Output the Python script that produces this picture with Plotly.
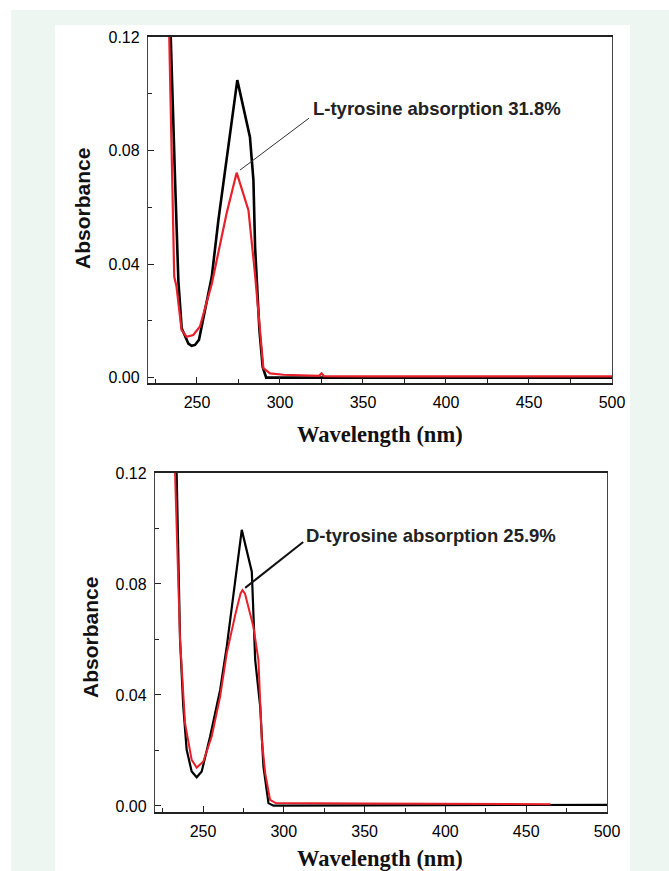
import plotly.graph_objects as go

# ---- data: top panel (L-tyrosine) ----
l_black_wl = [230, 234.2, 236.8, 238.8, 240.8, 244.8, 246.8, 248.8, 251.2, 258.9, 262.9, 274.3, 281.9, 284.0, 285.0, 287.6, 289.6, 291.7, 300, 350, 400, 450, 500]
l_black_ab = [0.16, 0.12, 0.0696, 0.034, 0.0174, 0.012, 0.0112, 0.0115, 0.0133, 0.0355, 0.0555, 0.1048, 0.0848, 0.0696, 0.046, 0.0168, 0.0037, 0.0, 0.0, 0.0, 0.0, 0.0, 0.0]
l_red_wl = [229, 233.3, 235.1, 236.3, 237.7, 240.7, 243.7, 247.8, 251.8, 258.9, 267.9, 273.9, 281.0, 284.9, 290.0, 294.0, 302, 320, 323.5, 325.1, 326.5, 350, 400, 450, 500]
l_red_ab = [0.16, 0.12, 0.0695, 0.0355, 0.032, 0.0168, 0.0144, 0.015, 0.018, 0.033, 0.058, 0.0722, 0.059, 0.0368, 0.0033, 0.0015, 0.001, 0.0006, 0.0006, 0.0015, 0.0005, 0.0004, 0.0004, 0.0004, 0.0004]

# ---- data: bottom panel (D-tyrosine) ----
d_black_wl = [229, 233.7, 235.8, 237.8, 239.9, 243.0, 246.1, 249.2, 254.4, 260.6, 264.7, 274.0, 280.2, 282.3, 285.4, 287.4, 290.5, 293.6, 350, 400, 450, 500]
d_black_ab = [0.16, 0.12, 0.0598, 0.0358, 0.0202, 0.0124, 0.0103, 0.0124, 0.025, 0.0418, 0.0574, 0.0995, 0.0844, 0.0526, 0.0358, 0.0142, 0.001, 0.0001, 0.0002, 0.0003, 0.0004, 0.0004]
d_red_wl = [228, 232.7, 235.8, 238.9, 243.0, 246.1, 250.2, 255.4, 260.6, 264.7, 270.0, 273.2, 274.4, 276.0, 281.2, 284.3, 286.4, 288.5, 291.5, 295.0, 350, 400, 430, 465]
d_red_ab = [0.16, 0.12, 0.0598, 0.0298, 0.0166, 0.0138, 0.016, 0.025, 0.0394, 0.055, 0.069, 0.0765, 0.0778, 0.0765, 0.0646, 0.0526, 0.0238, 0.0118, 0.0022, 0.001, 0.0009, 0.0008, 0.0007, 0.0006]

x_ticks = [250, 300, 350, 400, 450, 500]
y_ticks = [0.00, 0.04, 0.08, 0.12]
x_title = "Wavelength (nm)"
y_title = "Absorbance"
note_l = "L-tyrosine absorption 31.8%"
note_d = "D-tyrosine absorption 25.9%"

W, H = 669, 871
BLACK = "#000000"
RED = "#e8202a"

def px(x):
    return x / W

def py(y):
    return 1 - y / H

fig = go.Figure()
fig.add_trace(go.Scatter(x=l_black_wl, y=l_black_ab, mode="lines", line=dict(color=BLACK, width=2.6), xaxis="x", yaxis="y", showlegend=False))
fig.add_trace(go.Scatter(x=l_red_wl, y=l_red_ab, mode="lines", line=dict(color=RED, width=2.2), xaxis="x", yaxis="y", showlegend=False))
fig.add_trace(go.Scatter(x=d_black_wl, y=d_black_ab, mode="lines", line=dict(color=BLACK, width=2.2), xaxis="x2", yaxis="y2", showlegend=False))
fig.add_trace(go.Scatter(x=d_red_wl, y=d_red_ab, mode="lines", line=dict(color=RED, width=2.0), xaxis="x2", yaxis="y2", showlegend=False))

tickfont = dict(family="Liberation Sans, Arial", size=16, color="#000")

def xax(domain, anchor, rng):
    return dict(domain=domain, anchor=anchor, range=rng, tickvals=x_ticks, automargin=False,
                ticks="inside", ticklen=6, tickwidth=1.2, tickcolor="#222",
                minor=dict(ticks="inside", ticklen=4, tick0=225, dtick=50, tickcolor="#222"),
                showline=True, linewidth=2, linecolor="#222", mirror=True,
                showgrid=False, zeroline=False, tickfont=tickfont, ticklabelstandoff=4)

def yax(domain, anchor, rng):
    return dict(domain=domain, anchor=anchor, range=rng, tickvals=y_ticks, tickformat=".2f", automargin=False,
                ticks="inside", ticklen=6, tickwidth=1.2, tickcolor="#222",
                minor=dict(ticks="inside", ticklen=4, tick0=0.02, dtick=0.04, tickcolor="#222"),
                showline=True, linewidth=1.3, linecolor="#444", mirror=True,
                showgrid=False, zeroline=False, tickfont=tickfont, ticklabelstandoff=4)

notefont = dict(family="Liberation Sans, Arial", size=18.5, color="#222")

fig.update_layout(
    template="none",
    width=W, height=H, margin=dict(l=0, r=0, t=0, b=0, pad=0, autoexpand=False),
    paper_bgcolor="white", plot_bgcolor="white",
    xaxis=xax([px(148), px(612)], "y", [220.5, 500]),
    yaxis=yax([py(383), py(37)], "x", [-0.0019, 0.12]),
    xaxis2=xax([px(155), px(607)], "y2", [220.3, 500]),
    yaxis2=yax([py(812), py(473)], "x2", [-0.0022, 0.12]),
    shapes=[
        dict(type="rect", xref="paper", yref="paper", x0=px(11), x1=1, y0=0, y1=py(10),
             fillcolor="#eef6f1", line=dict(width=0), layer="below"),
        dict(type="rect", xref="paper", yref="paper", x0=px(55), x1=px(630), y0=0, y1=py(25),
             fillcolor="white", line=dict(width=0), layer="below"),
        dict(type="line", xref="x", yref="y", x0=317.5, y0=0.0914, x1=275.9, y1=0.0731,
             line=dict(color="#333", width=1)),
        dict(type="line", xref="x2", yref="y2", x0=312.0, y0=0.0951, x1=276.1, y1=0.0786,
             line=dict(color="#111", width=2)),
    ],
    annotations=[
        dict(text="<b>" + note_l + "</b>", xref="x", yref="y", x=318.7, y=0.0949, xanchor="left", yanchor="middle",
             showarrow=False, font=notefont),
        dict(text="<b>" + note_d + "</b>", xref="x2", yref="y2", x=312.6, y=0.0973, xanchor="left", yanchor="middle",
             showarrow=False, font=notefont),
        dict(text="<b>" + y_title + "</b>", xref="paper", yref="paper", x=px(82), y=py(209),
             textangle=-90, showarrow=False, xanchor="center", yanchor="middle",
             font=dict(family="Liberation Sans, Arial", size=21, color="#111")),
        dict(text="<b>" + y_title + "</b>", xref="paper", yref="paper", x=px(90), y=py(638),
             textangle=-90, showarrow=False, xanchor="center", yanchor="middle",
             font=dict(family="Liberation Sans, Arial", size=21, color="#111")),
        dict(text="<b>" + x_title + "</b>", xref="paper", yref="paper", x=px(380), y=py(434),
             showarrow=False, xanchor="center", yanchor="middle",
             font=dict(family="Liberation Serif, Times New Roman", size=22.5, color="#111")),
        dict(text="<b>" + x_title + "</b>", xref="paper", yref="paper", x=px(380), y=py(858),
             showarrow=False, xanchor="center", yanchor="middle",
             font=dict(family="Liberation Serif, Times New Roman", size=22.5, color="#111")),
    ],
)

post = (
    "document.body.style.margin='0';"
    "document.documentElement.style.overflow='hidden';"
    "document.body.style.overflow='hidden';"
    "var d=document.getElementById('{plot_id}');"
    "d.style.position='fixed';d.style.left='0px';d.style.top='0px';"
)

fig.write_html("out.html", config={"displayModeBar": False}, post_script=post)
